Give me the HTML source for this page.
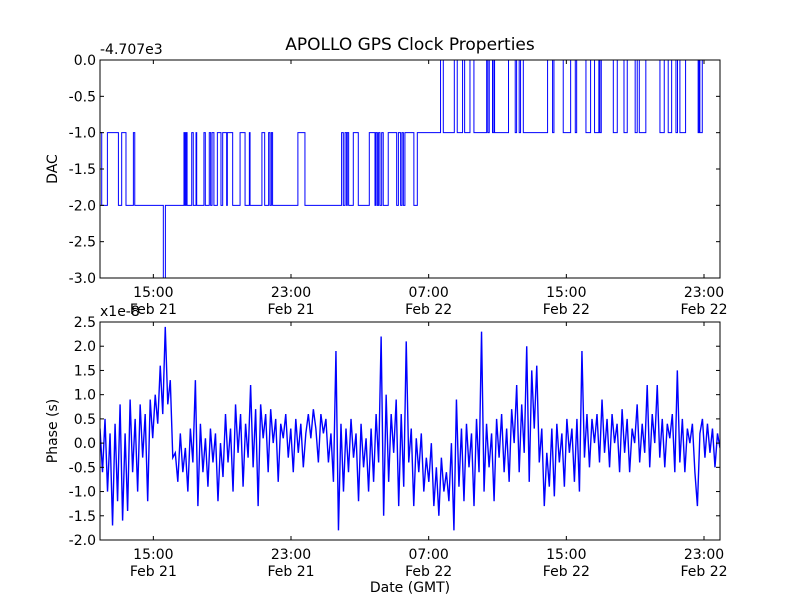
<!DOCTYPE html>
<html><head><meta charset="utf-8"><style>
body{margin:0;background:#fff}
svg text{font-family:"DejaVu Sans","Liberation Sans",sans-serif;fill:#000}
</style></head><body>
<svg id="chart" width="800" height="600" viewBox="0 0 800 600" xmlns="http://www.w3.org/2000/svg">
<rect width="800" height="600" fill="#fff"/>
<text x="410" y="50" font-size="17" text-anchor="middle">APOLLO GPS Clock Properties</text>
<g id="top"></g>
<g id="bot"></g>
</svg>
<script>
const xTickHours=[15,23,31,39,47];
const xTickTimes=["15:00","23:00","07:00","15:00","23:00"];
const xTickDates=["Feb 21","Feb 21","Feb 22","Feb 22","Feb 22"];
const dacTicks=[0,-0.5,-1,-1.5,-2,-2.5,-3];
const phaseTicks=[2.5,2,1.5,1,0.5,0,-0.5,-1,-1.5,-2];
const dacHours=[11.9,12.0,12.33,12.97,13.16,13.41,13.84,13.92,15.58,15.70,16.78,16.84,16.9,16.96,17.23,17.32,17.48,17.52,17.94,18.02,18.25,18.33,18.41,18.52,18.72,18.93,19.03,19.26,19.3,19.61,20.04,20.33,20.58,20.62,21.31,21.47,21.7,21.78,21.86,21.93,23.4,23.81,25.94,26.04,26.14,26.23,26.27,26.35,26.62,26.91,27.55,27.88,27.94,28.02,28.09,28.17,28.27,28.36,28.65,29.14,29.24,29.37,29.45,29.53,29.62,30.14,30.34,31.69,31.85,32.49,32.66,32.97,33.09,33.4,33.63,34.37,34.44,34.52,34.71,34.79,34.83,35.64,36.03,36.11,36.26,36.34,36.5,37.91,38.2,38.28,38.82,39.25,39.52,39.6,40.14,40.41,40.64,40.89,40.95,41.03,41.73,41.96,42.35,42.54,43.0,43.12,43.24,43.62,44.44,44.69,44.92,45.12,45.37,45.46,45.6,45.93,46.66,46.72,46.76,46.9];
const dacValues=[-1,-2,-1,-2,-1,-2,-1,-2,-3,-2,-1,-2,-1,-2,-1,-2,-1,-2,-1,-2,-1,-2,-1,-2,-1,-2,-1,-2,-1,-2,-1,-2,-1,-2,-1,-2,-1,-2,-1,-2,-1,-2,-1,-2,-1,-2,-1,-2,-1,-2,-1,-2,-1,-2,-1,-2,-1,-2,-1,-2,-1,-2,-1,-2,-1,-2,-1,0,-1,0,-1,0,-1,0,-1,0,-1,0,-1,0,-1,0,-1,0,-1,0,-1,0,-1,0,-1,0,-1,0,-1,0,-1,0,-1,0,-1,0,-1,0,-1,0,-1,0,-1,0,-1,0,-1,0,-1,0,-1,0,-1,0];
const phaseValues=[0.3,-0.6,0.5,-1.0,0.2,-1.7,0.4,-1.2,0.8,-1.6,
0.2,-1.4,0.9,-0.6,0.5,-1.0,0.8,-0.3,0.6,-1.2,
0.9,0.1,1.0,0.4,1.6,0.6,2.4,0.8,1.3,-0.3,
-0.2,-0.8,0.2,-0.6,-0.1,-1.0,0.3,-0.4,1.3,-1.3,
0.4,-0.6,0.1,-0.9,0.3,-0.4,0.2,-1.2,0.0,-0.7,
0.6,-0.4,0.3,-1.0,0.8,-0.2,0.6,-0.9,0.4,-0.3,
1.2,-0.5,0.7,-1.3,0.8,0.1,0.6,-0.6,0.7,0.0,
0.5,-0.8,0.4,0.1,0.6,-0.3,0.3,-0.6,0.5,-0.2,
0.4,-0.5,0.2,0.6,0.1,0.7,0.3,-0.4,0.6,0.2,
0.5,-0.4,0.2,-0.8,1.9,-1.8,0.4,-1.0,0.3,-0.6,
0.5,-0.3,0.2,-1.2,0.4,-0.5,0.1,-1.0,0.3,-0.8,
0.6,-0.4,2.2,-1.5,1.0,-0.8,0.6,-0.2,0.9,-1.3,
0.6,-0.9,2.1,-0.4,0.3,-1.3,0.1,-0.6,0.2,-1.0,
-0.3,-0.8,0.0,-1.3,-0.5,-1.5,-0.3,-1.0,-0.6,-1.2,
0.0,-1.8,0.9,-0.9,0.3,-1.2,0.4,-0.5,0.2,-1.3,
0.5,-0.6,2.3,-1.0,0.4,-0.5,0.2,-1.2,0.5,-0.3,
0.6,-0.6,0.3,-0.8,0.7,0.0,1.2,-0.6,0.8,-0.2,
2.0,-0.8,1.5,0.3,1.6,-0.4,0.3,-1.3,-0.2,-0.9,
0.3,-1.1,0.4,-0.4,0.2,-0.9,0.5,-0.2,0.3,-0.8,
0.5,-1.0,1.9,-0.3,0.6,-0.5,0.5,0.0,0.6,-0.4,
0.9,-0.2,0.5,-0.5,0.6,0.0,0.4,-0.6,0.7,-0.2,
0.5,-0.6,0.3,0.0,0.8,-0.4,0.4,-0.2,1.2,-0.5,
0.6,0.0,1.2,-0.3,0.5,-0.5,0.4,0.1,0.6,-0.6,
1.5,-0.4,0.5,-0.6,0.3,0.0,0.4,-0.6,-1.3,0.2,
0.5,-0.3,0.4,-0.2,0.3,-0.5,0.2,-0.1];
const hourMin=11.9, hourMax=47.93;
const NS="http://www.w3.org/2000/svg";
const L=100,R=720;
function xs(h){return L+(h-hourMin)/(hourMax-hourMin)*(R-L);}
function mk(parent,tag,attrs){const e=document.createElementNS(NS,tag);for(const k in attrs)e.setAttribute(k,attrs[k]);parent.appendChild(e);return e;}
function panel(g,top,bot,ymax,ymin,ticks,fmt,pathD,ylabel,name,sw){
  const ys=v=>top+(ymax-v)/(ymax-ymin)*(bot-top);
  const clip=mk(g,'clipPath',{id:'c'+name});mk(clip,'rect',{x:L,y:top,width:R-L,height:bot-top});
  const p=mk(g,'path',{d:pathD(ys),fill:'none',stroke:'#0000ff','stroke-width':sw,'clip-path':'url(#c'+name+')'});
  
  
  ticks.forEach(v=>{const y=ys(v);
    mk(g,'line',{x1:L,x2:L+4,y1:y,y2:y,stroke:'#000'});
    mk(g,'line',{x1:R-4,x2:R,y1:y,y2:y,stroke:'#000'});
    const t=mk(g,'text',{x:L-4,y:y+5,'font-size':14,'text-anchor':'end'});t.textContent=fmt(v);
    
    
  });
  xTickHours.forEach((h,i)=>{const x=xs(h);
    mk(g,'line',{x1:x,x2:x,y1:bot,y2:bot-4,stroke:'#000'});
    mk(g,'line',{x1:x,x2:x,y1:top,y2:top+4,stroke:'#000'});
    const t=mk(g,'text',{x:x,y:bot+19,'font-size':14,'text-anchor':'middle'});t.textContent=xTickTimes[i];
    
    
    const d=mk(g,'text',{x:x,y:bot+36,'font-size':14,'text-anchor':'middle'});d.textContent=xTickDates[i];
    
    
  });
  const f=mk(g,'rect',{x:L,y:top,width:R-L,height:bot-top,fill:'none',stroke:'#000','stroke-width':1});
  
  
  const yl=mk(g,'text',{x:0,y:0,'font-size':14,'text-anchor':'middle',transform:`translate(57,${(top+bot)/2}) rotate(-90)`});yl.textContent=ylabel;
  
  
}
const gt=document.getElementById('top');
panel(gt,60,278,0,-3,dacTicks,v=>v.toFixed(1),ys=>{
  let d='';for(let i=0;i<dacHours.length;i++){const x=xs(dacHours[i]);const y=ys(dacValues[i]);
    if(i===0)d+=`M${x},${y}`;else d+=`L${x},${ys(dacValues[i-1])}L${x},${y}`;}
  d+=`L${xs(hourMax)},${ys(dacValues[dacValues.length-1])}`;return d;},'DAC','dac',1);
const o1=mk(gt,'text',{x:100,y:54,'font-size':14});o1.textContent='-4.707e3';


const gb=document.getElementById('bot');
panel(gb,322,540,2.5,-2,phaseTicks,v=>v.toFixed(1),ys=>{
  let d='';const n=phaseValues.length;
  for(let i=0;i<n;i++){const h=hourMin+i*(hourMax-hourMin)/(n-1);d+=(i?'L':'M')+xs(h)+','+ys(phaseValues[i]);}
  return d;},'Phase (s)','phase',1.4);
const o2=mk(gb,'text',{x:100,y:316,'font-size':14});o2.textContent='x1e-8';


const xl=mk(gb,'text',{x:410,y:592,'font-size':14,'text-anchor':'middle'});xl.textContent='Date (GMT)';


</script>
</body></html>
